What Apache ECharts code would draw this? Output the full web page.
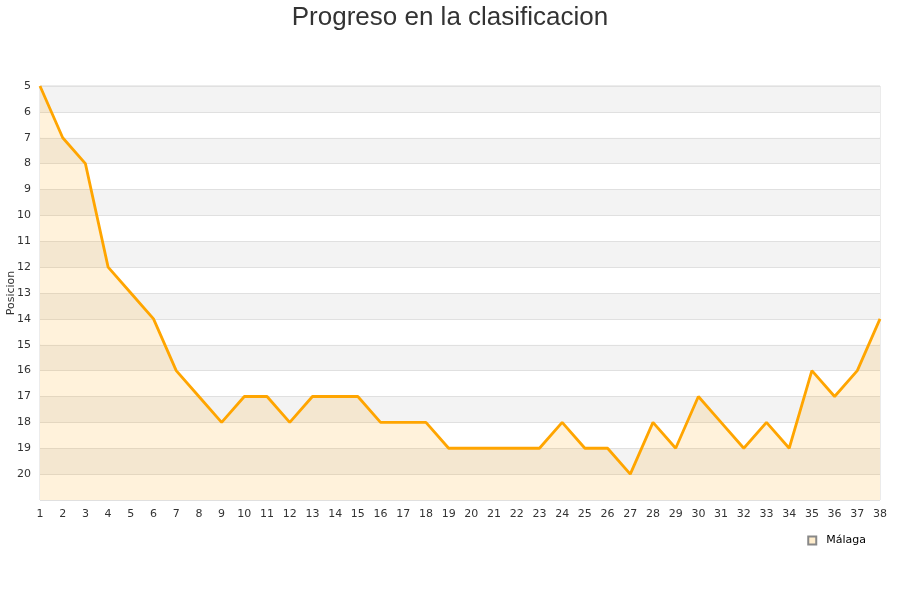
<!DOCTYPE html>
<html>
<head>
<meta charset="utf-8">
<script src="https://cdn.jsdelivr.net/npm/echarts@6/dist/echarts.min.js"></script>
<style>html,body{margin:0;padding:0;background:#fff}#c{width:900px;height:600px}</style>
</head>
<body>
<div id="c"></div>
<script>
var jornadas = [1,2,3,4,5,6,7,8,9,10,11,12,13,14,15,16,17,18,19,20,21,22,23,24,25,26,27,28,29,30,31,32,33,34,35,36,37,38];
var malaga = [5,7,8,12,13,14,16,17,18,17,17,18,17,17,17,18,18,18,19,19,19,19,19,18,19,19,20,18,19,17,18,19,18,19,16,17,16,14];
var seriesName = 'Málaga';
var chartTitle = 'Progreso en la clasificacion';
var yName = 'Posicion';

var chart = echarts.init(document.getElementById('c'));
chart.setOption({
  animation: false,
  title: {
    text: chartTitle, left: 'center', top: 0,
    textStyle: {fontFamily: 'Liberation Sans', fontSize: 26, fontWeight: 'normal', color: '#333'}
  },
  legend: {
    data: [{name: seriesName, icon: 'rect'}],
    right: 29, top: 530, itemWidth: 8, itemHeight: 8, itemGap: 5,
    textStyle: {fontFamily: 'DejaVu Sans', fontSize: 11, color: '#000', padding: [0, 0, 0, 5]}
  },
  grid: {left: 40, right: 20, top: 86, bottom: 100, outerBoundsMode: 'none', containLabel: false,
    show: true, borderColor: '#d8d8d8', borderWidth: 1, backgroundColor: 'transparent'},
  xAxis: {
    type: 'category', data: jornadas, boundaryGap: false,
    axisLine: {show: false}, axisTick: {show: false},
    axisLabel: {fontFamily: 'DejaVu Sans', fontSize: 11, color: '#333', margin: 9, interval: 0},
    splitLine: {show: false}
  },
  yAxis: {
    type: 'value', inverse: true, min: 5, max: 21, interval: 1,
    name: yName, nameLocation: 'middle', nameGap: 23, nameMoveOverlap: false,
    nameTextStyle: {fontFamily: 'DejaVu Sans', fontSize: 11, color: '#333'},
    axisLine: {show: false}, axisTick: {show: false},
    axisLabel: {fontFamily: 'DejaVu Sans', fontSize: 11, color: '#333', margin: 9,
      formatter: function (v) { return v === 21 ? '' : v; }},
    splitLine: {lineStyle: {color: '#e0e0e0', width: 1}},
    splitArea: {show: true, areaStyle: {color: ['#f3f3f3', '#ffffff']}}
  },
  series: [{
    name: seriesName, type: 'line', data: malaga,
    symbol: 'none', lineStyle: {color: '#FFA500', width: 2.8},
    itemStyle: {color: '#FFEDCC', borderColor: '#888', borderWidth: 1},
    areaStyle: {color: 'rgba(255,165,0,0.2)', origin: 'end'}
  }]
});
</script>
</body>
</html>
